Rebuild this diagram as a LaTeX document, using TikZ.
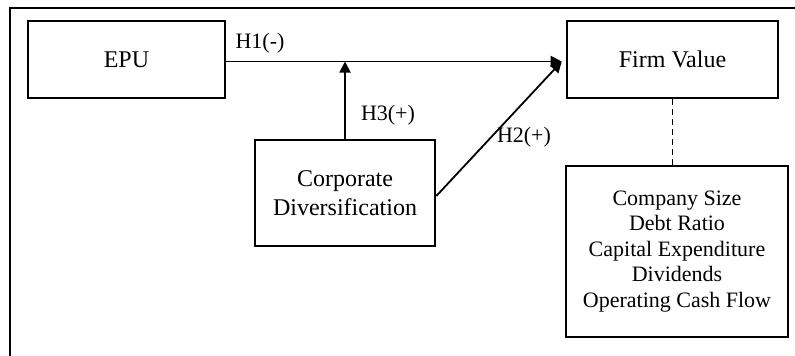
\documentclass[tikz,border=0pt]{standalone}
\usepackage{fontspec}
\setmainfont{Liberation Serif}
\usetikzlibrary{arrows.meta}
\begin{document}
\begin{tikzpicture}[x=1pt,y=-1pt,
  box/.style={draw, line width=2.6pt, inner sep=0pt, align=center, font=\fontsize{24}{29}\selectfont},
  ctrlbox/.style={draw, line width=2.6pt, inner sep=0pt, align=center, font=\fontsize{22}{25.5}\selectfont},
  conn/.style={line width=1.8pt, -{Triangle[length=11pt,width=11pt]}},
  lbl/.style={font=\fontsize{22}{26}\selectfont, inner sep=0pt}]
\useasboundingbox (0,0) rectangle (795,356);
\draw[line width=1.6pt] (10,370) -- (10,8) -- (810,8);
\node[box, minimum width=197pt, minimum height=77pt] (epu) at (126.5,59.5) {EPU};
\node[box, minimum width=211pt, minimum height=77pt] (fv) at (672.5,59.5) {Firm Value};
\node[box, minimum width=180pt, minimum height=106pt] (cd) at (345,193) {Corporate\\Diversification};
\node[ctrlbox, minimum width=222pt, minimum height=171pt] (ctrl) at (677,251.5) {Company Size\\Debt Ratio\\Capital Expenditure\\Dividends\\Operating Cash Flow};
\coordinate (tip) at ([xshift=-4pt,yshift=-2pt]fv.west);
\draw[conn] (epu.east |- tip) -- (tip);
\draw[conn] ([yshift=-3pt]cd.east) -- (tip);
\draw[conn] (cd.north) -- (cd.north |- tip);
\draw[line width=1pt, dashed, dash pattern=on 6pt off 4pt] (fv.south) -- (fv.south |- ctrl.north);
\node[lbl] (h1) at (260,43) {H1(-)};
\node[lbl] (h3) at (388,115) {H3(+)};
\node[lbl] (h2) at (524,137) {H2(+)};
\end{tikzpicture}
\end{document}
